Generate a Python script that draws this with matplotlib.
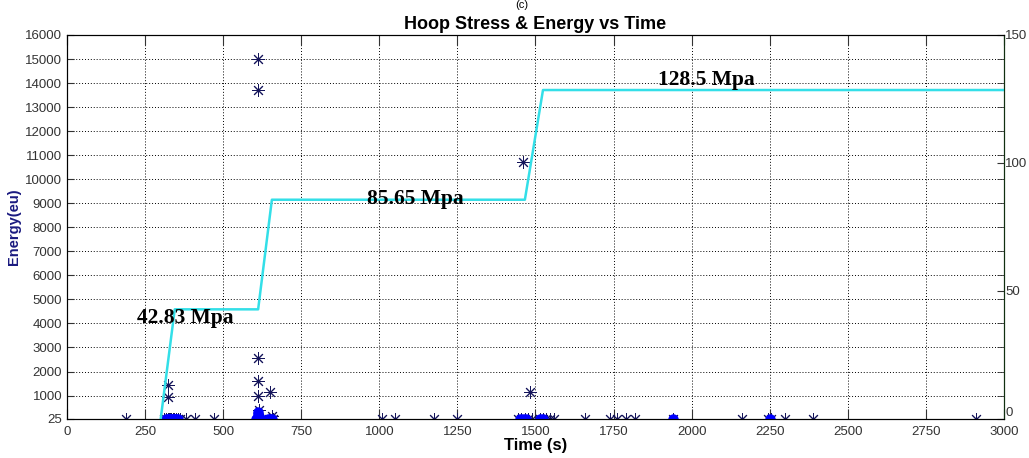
import matplotlib
matplotlib.use("Agg")
import matplotlib.pyplot as plt
import numpy as np

# stress profile (right axis, MPa)
stress_t = [300, 345, 612, 656, 1466, 1524, 3000]
stress_v = [0, 42.83, 42.83, 85.65, 85.65, 128.5, 128.5]

# energy hits plotted with '*'
hit_t = [190, 312, 318, 322, 326, 330, 334, 338, 342, 348, 355, 362, 380, 410, 470,
         322, 325,
         611, 611, 611, 611, 611, 615, 650, 648, 655, 660,
         1010, 1050, 1175, 1250,
         1460, 1482, 1445, 1455, 1465, 1475, 1490, 1515, 1525, 1535, 1545, 1560,
         1660, 1740, 1760, 1790, 1820, 1940, 2160, 2245, 2255, 2300, 2390, 2910]
hit_e = [25, 25, 25, 25, 25, 25, 25, 25, 25, 25, 25, 25, 25, 25, 25,
         1450, 950,
         15000, 13700, 2550, 1620, 1000, 400, 1150, 25, 150, 25,
         25, 25, 25, 25,
         10700, 1150, 25, 25, 25, 25, 25, 25, 25, 25, 25, 25,
         25, 25, 25, 25, 25, 25, 25, 25, 25, 25, 25, 25]

# low energy hits drawn as filled blue dots
dot_t = [318, 322, 326, 330, 334, 338, 342, 346, 350, 356, 605, 608, 611, 614, 617, 620,
         611, 611, 611, 645, 650, 655, 1450, 1460, 1470, 1515, 1525, 1940, 2250]
dot_e = [25, 25, 25, 25, 25, 25, 25, 25, 25, 25, 25, 25, 25, 25, 25, 25,
         120, 220, 320, 25, 40, 25, 25, 25, 25, 25, 25, 25, 25]

labels = [("42.83 Mpa", 224, 39.5), ("85.65 Mpa", 961, 86), ("128.5 Mpa", 1892, 132.4)]

plt.rcParams['font.family'] = ['Liberation Sans', 'DejaVu Sans']

fig = plt.figure(figsize=(10.29, 4.58), dpi=100)
ax = fig.add_axes([0.0651, 0.0852, 0.9106, 0.8384])
ax2 = ax.twinx()

navy = '#14145a'
ax.plot(hit_t, hit_e, linestyle='none', marker=(8, 2, 0), color=navy,
        markersize=9, markeredgewidth=0.7, zorder=3)
ax.plot(dot_t, dot_e, 'o', color='blue', markersize=6.5, zorder=4)

ax.set_xlim(0, 3000)
ax.set_ylim(25, 16000)
ax.set_xticks(np.arange(0, 3001, 250))
ax.set_yticks([25] + list(range(1000, 16001, 1000)))
ax.grid(True, linestyle=(0, (1, 2)), color='black', linewidth=0.7)
ax.tick_params(direction='in', labelsize=9.5, length=5, top=True, colors='#333333')
ax.tick_params(axis='x', length=7, pad=5)

ax2.plot(stress_t, stress_v, color='#33dfe8', linewidth=1.8)
ax2.set_ylim(0, 150)
ax2.set_yticks([0, 50, 100, 150])
minor = [(v - 25) / (16000 - 25) * 150 for v in range(1000, 16000, 1000)]
ax2.set_yticks(minor, minor=True)
ax2.tick_params(direction='in', labelsize=9.5, length=5, colors='#333333', pad=1)
ax2.tick_params(which='minor', direction='in', length=5, color='#333333')
ax2.spines['right'].set_color('#103010')
# lift the "0" label a little so it clears the "3000" below it
ax2.get_yticklabels()[0].set_va('bottom')

for txt, x, y in labels:
    ax2.text(x, y, txt, family=['Liberation Serif', 'DejaVu Serif'], fontweight='bold',
             fontsize=15.5, ha='left', va='center')

ax.set_xlabel('Time (s)', fontweight='bold', fontsize=12, labelpad=0)
ax.set_ylabel('Energy(eu)', fontweight='bold', fontsize=10.5, color='#1a1a80', labelpad=3)
ax.set_title('Hoop Stress & Energy vs Time', fontweight='bold', fontsize=13, pad=4)
fig.text(0.507, 0.999, '(c)', fontsize=8, ha='center', va='top')

fig.savefig('out.png', dpi=100)
